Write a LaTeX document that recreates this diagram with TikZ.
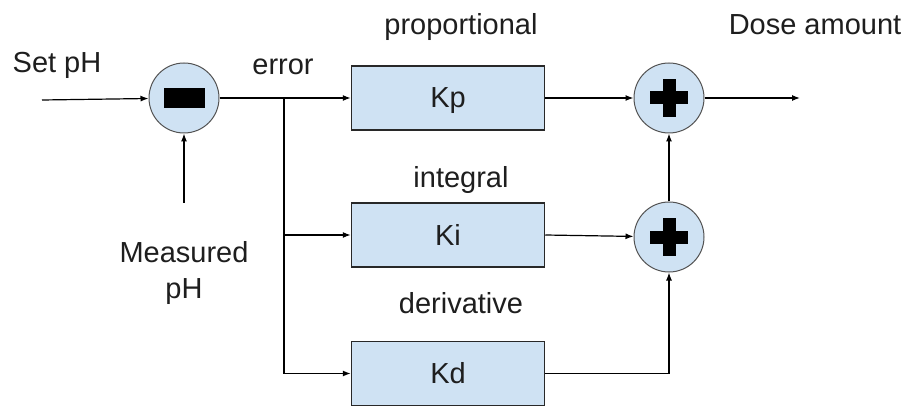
\documentclass[tikz,border=0pt]{standalone}
\usepackage{fontspec}
\setmainfont{Liberation Sans}
\usetikzlibrary{arrows.meta}
\definecolor{lblue}{RGB}{207,226,243}
\definecolor{edge}{RGB}{40,40,40}
\definecolor{txt}{RGB}{30,30,30}
\begin{document}
\begin{tikzpicture}[x=1pt,y=-1pt,
  every node/.style={font=\fontsize{29}{36}\selectfont, text=txt},
  lbl/.style={anchor=base, inner sep=0},
  blk/.style={draw=edge, line width=1.5pt, fill=lblue, minimum width=193pt, minimum height=64pt, inner sep=0, text height=20pt, text depth=0pt},
  circ/.style={circle, draw=edge!80, line width=1pt, fill=lblue, minimum size=70pt, inner sep=0},
  minussign/.style={circ, path picture={\fill[black] ([xshift=-20.5pt,yshift=-10pt]path picture bounding box.center) rectangle ([xshift=20.5pt,yshift=10pt]path picture bounding box.center);}},
  plussign/.style={circ, path picture={
     \fill[black] ([xshift=-19pt,yshift=-6.5pt]path picture bounding box.center) rectangle ([xshift=19pt,yshift=6.5pt]path picture bounding box.center);
     \fill[black] ([xshift=-6.5pt,yshift=-19pt]path picture bounding box.center) rectangle ([xshift=6.5pt,yshift=19pt]path picture bounding box.center);}},
  arr/.style={draw=black, line width=1.2pt, -{Latex[length=8pt,width=6pt]}},
  ln/.style={draw=black, line width=1.2pt}
]
\useasboundingbox[fill=white] (0,0) rectangle (907,406);

% blocks
\node[blk] (kp) at (448,98) {Kp};
\node[blk] (ki) at (448,235) {Ki};
\node[blk] (kd) at (448,373.5) {Kd};

% summing junctions
\node[minussign] (sub) at (184,98) {};
\node[plussign] (sum1) at (669,98) {};
\node[plussign] (sum2) at (669,237) {};

% labels
\node[lbl] (setph) at (57,73) {Set pH};
\node[lbl] (err) at (283,75) {error};
\node[lbl] (prop) at (461,35) {proportional};
\node[lbl] (dose) at (815,35) {Dose amount};
\node[lbl] (integ) at (461,188) {integral};
\node[lbl] (deriv) at (461,313) {derivative};
\node[lbl] (meas1) at (184,262) {Measured};
\node[lbl] (meas2) at (184,298) {pH};

% coordinates
\coordinate (in) at (42,100);
\coordinate (mp) at (184,203);
\coordinate (br) at (284,98);
\coordinate (out) at (800,98);

% connectors
\draw[arr] (in) -- (sub);
\draw[arr] (mp) -- (sub);
\draw[arr] (sub) -- (kp);
\draw[ln] (br) -- (br |- kd.west);
\draw[arr] (br |- ki.west) -- (ki.west);
\draw[arr] (br |- kd.west) -- (kd.west);
\draw[arr] (kp) -- (sum1);
\draw[arr] (sum1) -- (out);
\draw[arr] (ki.east) -- (sum2);
\draw[arr] (kd.east) -| (sum2);
\draw[arr] (sum2) -- (sum1);
\end{tikzpicture}
\end{document}
